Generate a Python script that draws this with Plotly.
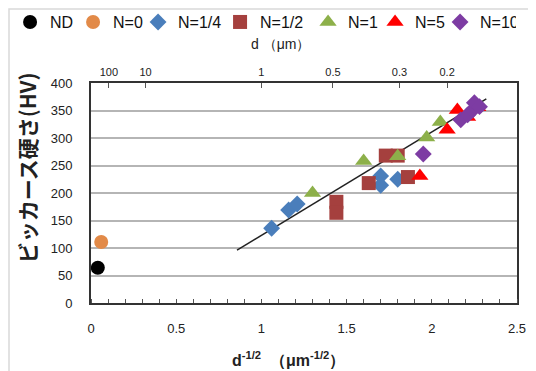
import plotly.graph_objects as go

# ---- data ----
nd_x = [0.04]; nd_y = [64]
n0_x = [0.06]; n0_y = [111]
n14_x = [1.06, 1.16, 1.21, 1.70, 1.70, 1.80]
n14_y = [136, 169, 180, 231, 214, 225]
n12_x = [1.44, 1.44, 1.63, 1.73, 1.80, 1.86]
n12_y = [184, 164, 218, 268, 268, 229]
n1_x = [1.30, 1.60, 1.80, 1.97, 2.05]
n1_y = [200, 258, 267, 301, 329]
n5_x = [1.93, 2.09, 2.15, 2.21, 2.27]
n5_y = [231, 315, 351, 338, 356]
n10_x = [1.95, 2.17, 2.21, 2.24, 2.25, 2.28]
n10_y = [271, 333, 342, 351, 364, 357]
trend_x = [0.857, 2.32]
trend_y = [96, 371]

top_tick_pos = [0.105, 0.32, 1.0, 1.42, 1.81, 2.09]
top_tick_text = ["100", "10", "1", "0.5", "0.3", "0.2"]

# name, x, y, symbol, colour, size, legend entry width
series = [
    ("ND", nd_x, nd_y, "circle", "#000000", 14, 18),
    ("N=0", n0_x, n0_y, "circle", "#E28A48", 14, 20),
    ("N=1/4", n14_x, n14_y, "diamond", "#4A7EBB", 13, 37),
    ("N=1/2", n12_x, n12_y, "square", "#A5403E", 14, 43),
    ("N=1", n1_x, n1_y, "triangle-up", "#8DB04A", 15, 22),
    ("N=5", n5_x, n5_y, "triangle-up", "#FF0000", 15, 20),
    ("N=10", n10_x, n10_y, "diamond", "#7D3CA3", 13, 31),
]

fig = go.Figure()
fig.add_trace(go.Scatter(x=trend_x, y=trend_y, mode="lines",
                         line=dict(color="#222222", width=1.5), showlegend=False))
for name, xs, ys, sym, col, sz, lw in series:
    fig.add_trace(go.Scatter(x=xs, y=ys, mode="markers", name=name, legendwidth=lw,
                             marker=dict(symbol=sym, color=col, size=sz, line=dict(width=0))))

# dummy trace for top axis
fig.add_trace(go.Scatter(x=[None], y=[None], xaxis="x2", showlegend=False))

font = "Liberation Sans, Arial, sans-serif"
fig.update_layout(
    width=536, height=371,
    margin=dict(l=83, r=27, t=75, b=76, autoexpand=False),
    paper_bgcolor="white", plot_bgcolor="white",
    font=dict(family=font, color="#222222"),
    showlegend=True,
    legend=dict(orientation="h", x=-0.19, xanchor="left", y=1.277, yanchor="middle",
                font=dict(size=16, color="#111111"), itemwidth=30,
                tracegroupgap=0, bgcolor="rgba(0,0,0,0)"),
    xaxis=dict(range=[0, 2.5], tickvals=[0, 0.5, 1, 1.5, 2, 2.5],
               ticktext=["0", "0.5", "1", "1.5", "2", "2.5"], automargin=False,
               showgrid=False, zeroline=False, showline=True, linecolor="#333333",
               linewidth=2, mirror=True, ticks="", tickfont=dict(size=13),
               ticklabelstandoff=12,
               minor=dict(tickvals=[i / 10 for i in range(26)], ticks="inside",
                          ticklen=4, tickcolor="#555555")),
    xaxis2=dict(range=[0, 2.5], overlaying="x", side="top", tickvals=top_tick_pos,
                ticktext=top_tick_text, ticks="inside", ticklen=5, tickcolor="#555555",
                showgrid=False, zeroline=False, tickfont=dict(size=11), automargin=False,
                ticklabelstandoff=4),
    yaxis=dict(range=[0, 400], dtick=50, showgrid=True, gridcolor="#B5B5B5", gridwidth=1.5,
               zeroline=False, showline=True, linecolor="#333333", linewidth=2, mirror=True,
               ticks="", tickfont=dict(size=13), ticklabelstandoff=14, automargin=False),
    annotations=[
        dict(text="d （μm）", xref="paper", yref="paper", x=0.444, y=1.177,
             xanchor="center", yanchor="middle", showarrow=False, font=dict(size=14)),
        dict(text="<b>d<sup>-1/2</sup>  （μm<sup>-1/2</sup>）</b>", xref="paper", yref="paper",
             x=0.464, y=-0.258, xanchor="center", yanchor="middle", showarrow=False,
             font=dict(size=16)),
        dict(text="<b>ビッカース硬さ(HV)</b>", xref="paper", yref="paper", x=-0.15, y=0.613,
             xanchor="center", yanchor="middle", showarrow=False, textangle=-90,
             font=dict(size=21, family="Noto Sans CJK JP")),
    ],
    shapes=[dict(type="rect", xref="paper", yref="paper", x0=-0.1925, x1=1.2,
                 y0=-0.6, y1=1.336, line=dict(color="#D9D9D9", width=1.5), layer="below")],
)

fig.write_html("out.html")
